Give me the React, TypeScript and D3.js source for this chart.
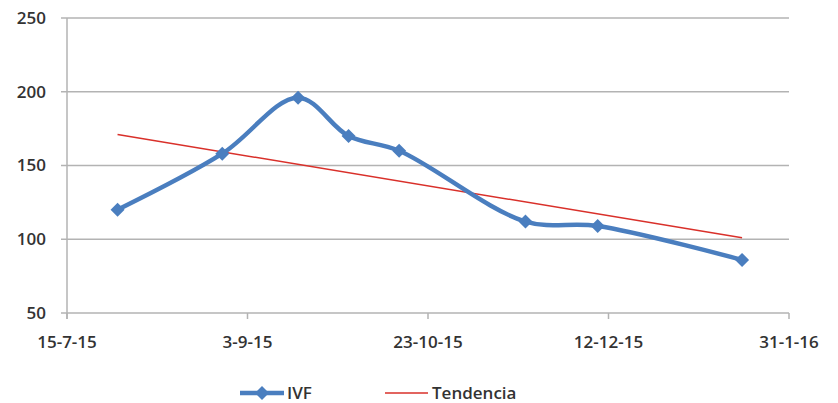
import React from 'react';
import * as d3 from 'd3';

const ivfDates = ['2015-07-29', '2015-08-27', '2015-09-17', '2015-10-01', '2015-10-15', '2015-11-19', '2015-12-09', '2016-01-18'];
const ivfValues = [120, 158, 196, 170, 160, 112, 109, 86];
const trendDates = ['2015-07-29', '2016-01-18'];
const trendValues = [171, 101];
const xTicks = ['2015-07-15', '2015-09-03', '2015-10-23', '2015-12-12', '2016-01-31'];
const yTicks = [50, 100, 150, 200, 250];

const W = 838;
const H = 403;
const margin = { top: 18, right: 49, bottom: 90, left: 67 };
const font = '"Open Sans", Lato, sans-serif';

const parse = (s: string) => new Date(s + 'T00:00:00');
const fmt = (d: Date) => `${d.getDate()}-${d.getMonth() + 1}-${String(d.getFullYear()).slice(2)}`;

export default function App() {
  const x = d3
    .scaleTime()
    .domain([parse(xTicks[0]), parse(xTicks[xTicks.length - 1])])
    .range([margin.left, W - margin.right]);
  const y = d3.scaleLinear().domain([50, 250]).range([H - margin.bottom, margin.top]);

  const ivf = ivfDates.map((d, i) => ({ date: parse(d), value: ivfValues[i] }));
  const trend = trendDates.map((d, i) => ({ date: parse(d), value: trendValues[i] }));

  const smooth = d3
    .line<{ date: Date; value: number }>()
    .x((d) => x(d.date))
    .y((d) => y(d.value))
    .curve(d3.curveCatmullRom.alpha(0.5));
  const straight = d3
    .line<{ date: Date; value: number }>()
    .x((d) => x(d.date))
    .y((d) => y(d.value));

  const diamond = (cx: number, cy: number, r = 7) =>
    `M${cx},${cy - r}L${cx + r},${cy}L${cx},${cy + r}L${cx - r},${cy}Z`;

  const x0 = margin.left;
  const x1 = W - margin.right;
  const yBase = y(50);
  const legendY = 393;
  const textProps = { fontFamily: font, fontSize: 17, fontWeight: 600, fill: '#333' };

  return (
    <svg width={W} height={H} style={{ position: 'absolute', left: 0, top: 0, background: '#fff' }}>
      {/* grid */}
      {yTicks.map((t) => (
        <g key={t}>
          <line x1={x0 - 6} x2={x1} y1={y(t)} y2={y(t)} stroke="#b3b3b3" strokeWidth={1.5} />
          <text x={46} y={y(t)} dy="0.35em" textAnchor="end" {...textProps}>
            {t}
          </text>
        </g>
      ))}
      <line x1={x0} x2={x0} y1={margin.top} y2={yBase + 6} stroke="#b3b3b3" strokeWidth={1.5} />
      {xTicks.map((t) => (
        <g key={t}>
          <line x1={x(parse(t))} x2={x(parse(t))} y1={yBase} y2={yBase + 6} stroke="#b3b3b3" strokeWidth={1.5} />
          <text x={x(parse(t))} y={348} textAnchor="middle" {...textProps}>
            {fmt(parse(t))}
          </text>
        </g>
      ))}
      {/* series */}
      <path d={straight(trend) || ''} fill="none" stroke="#d9302a" strokeWidth={1.5} />
      <path d={smooth(ivf) || ''} fill="none" stroke="#4a7ebf" strokeWidth={4.5} strokeLinejoin="round" />
      {ivf.map((d, i) => (
        <path key={i} d={diamond(x(d.date), y(d.value))} fill="#4a7ebf" />
      ))}
      {/* legend */}
      <line x1={240} x2={284} y1={legendY} y2={legendY} stroke="#4a7ebf" strokeWidth={4.5} />
      <path d={diamond(262, legendY)} fill="#4a7ebf" />
      <text x={287} y={legendY} dy="0.35em" {...textProps}>
        IVF
      </text>
      <line x1={385} x2={428} y1={legendY} y2={legendY} stroke="#d9302a" strokeWidth={1.5} />
      <text x={432} y={legendY} dy="0.35em" {...textProps}>
        Tendencia
      </text>
    </svg>
  );
}
